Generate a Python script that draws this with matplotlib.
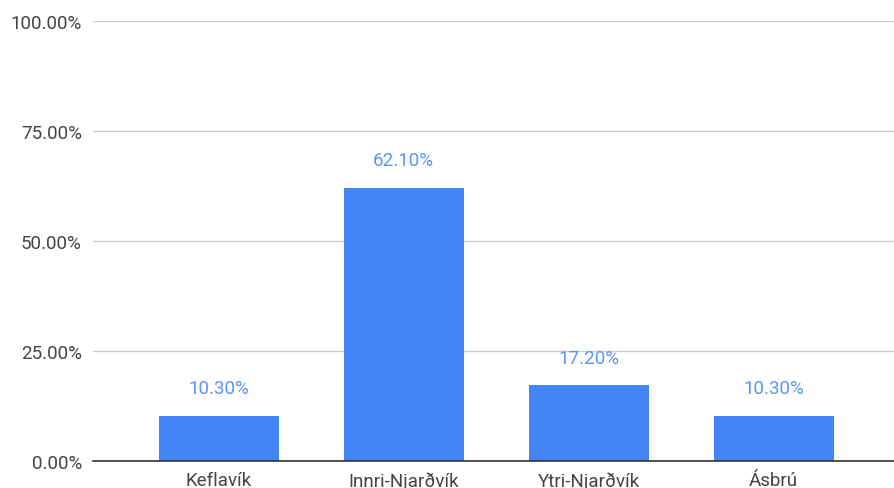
import matplotlib.pyplot as plt

categories = ['Keflavík', 'Innri-Njarðvík', 'Ytri-Njarðvík', 'Ásbrú']
values = [10.30, 62.10, 17.20, 10.30]
yticks = [0, 25, 50, 75, 100]

plt.rcParams['font.family'] = ['Roboto', 'DejaVu Sans']

fig = plt.figure(figsize=(8.94, 4.89), dpi=100)
ax = fig.add_axes([93 / 894, 1 - 462 / 489, 1 - 93 / 894, 440 / 489])

x = range(len(categories))
bars = ax.bar(x, values, width=0.65, color='#4285f4', zorder=3)

for b, v in zip(bars, values):
    ax.annotate('%.2f%%' % v, (b.get_x() + b.get_width() / 2, v),
                xytext=(0, 13.5), textcoords='offset points',
                ha='center', va='bottom', fontsize=13.5, color='#5b95f5')

ax.set_xlim(-0.68, 3.65)
ax.set_ylim(0, 100)
ax.set_yticks(yticks)
ax.set_yticklabels(['%.2f%%' % t for t in yticks])
ax.set_xticks(list(x))
ax.set_xticklabels(categories)
ax.tick_params(axis='both', length=0, labelsize=13.5, labelcolor='#444444')
ax.tick_params(axis='y', pad=8)
ax.tick_params(axis='x', pad=7.5)

ax.grid(axis='y', color='#cccccc', linewidth=1, zorder=0)
for s in ['top', 'right', 'left']:
    ax.spines[s].set_visible(False)
ax.spines['bottom'].set_color('#333333')
ax.spines['bottom'].set_linewidth(1.2)
ax.spines['bottom'].set_zorder(4)

fig.savefig('out.png', dpi=100)
